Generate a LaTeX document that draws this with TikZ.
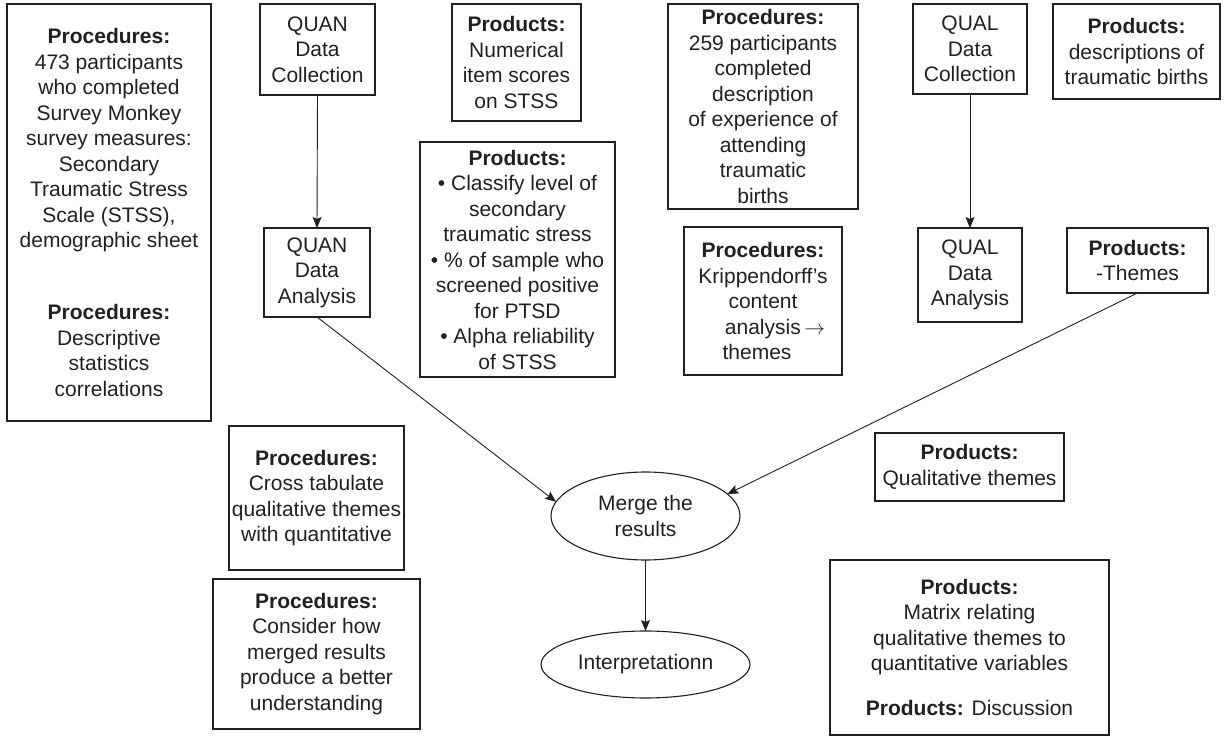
\documentclass[tikz,border=0pt]{standalone}
\usepackage{fontspec}
\setmainfont{Liberation Sans}
\usetikzlibrary{arrows.meta,shapes.geometric}

\definecolor{ink}{HTML}{231F20}

\tikzset{
  txt/.style={font=\fontsize{21}{25.5}\selectfont, text=ink, align=center},
  panel/.style={txt, draw=ink, line width=1.1pt, rectangle, inner sep=0pt, outer sep=0pt},
  oval/.style={txt, draw=ink, line width=1.1pt, ellipse, inner sep=0pt, outer sep=0pt},
  flow/.style={draw=ink, line width=0.9pt, -{Stealth[length=11pt,width=9pt,inset=2pt]}}
}

\begin{document}
\begin{tikzpicture}[x=1pt,y=-1pt]
\path[use as bounding box] (0,0) rectangle (1224,738);

% quantitative strand
\node[panel, minimum width=204pt, minimum height=417pt] (quanproc) at (109,212.5)
  {\textbf{Procedures:}\\473 participants\\who completed\\Survey Monkey\\survey measures:\\Secondary\\Traumatic Stress\\Scale (STSS),\\demographic sheet\\[46.5pt]\textbf{Procedures:}\\Descriptive\\statistics\\correlations};
\node[panel, minimum width=115pt, minimum height=91pt] (quandc) at (317.5,49.5)
  {QUAN\\Data\\Collection};
\node[panel, minimum width=106pt, minimum height=89pt] (quanda) at (317,272.5)
  {QUAN\\Data\\Analysis};
\node[panel, minimum width=129pt, minimum height=117pt] (quanprod) at (516.5,62.5)
  {\textbf{Products:}\\Numerical\\item scores\\on STSS};
\node[panel, minimum width=195pt, minimum height=235pt] (quanres) at (517.5,259.5)
  {\textbf{Products:}\\• Classify level of\\secondary\\traumatic stress\\• \% of sample who\\screened positive\\for PTSD\\• Alpha reliability\\of STSS};

% qualitative strand
\node[panel, minimum width=190pt, minimum height=205pt] (qualproc) at (763,106.5)
  {\textbf{Procedures:}\\259 participants\\completed\\description\\of experience of\\attending\\traumatic\\births};
\node[panel, minimum width=158pt, minimum height=148pt] (kripp) at (763,301)
  {\textbf{Procedures:}\\Krippendorff’s\\content\\\hbox to 24pt{}analysis\,$\rightarrow$\\themes\hbox to 12pt{}};
\node[panel, minimum width=114pt, minimum height=90pt] (qualdc) at (970,49)
  {QUAL\\Data\\Collection};
\node[panel, minimum width=104pt, minimum height=94pt] (qualda) at (970,275)
  {QUAL\\Data\\Analysis};
\node[panel, minimum width=167pt, minimum height=95pt] (qualprod) at (1136.5,51.5)
  {\textbf{Products:}\\descriptions of\\traumatic births};
\node[panel, minimum width=141pt, minimum height=65pt] (themes) at (1137.5,260.5)
  {\textbf{Products:}\\-Themes};

% merging stage
\node[oval, minimum width=189pt, minimum height=88pt] (merge) at (645.5,516)
  {Merge the\\results};
\node[oval, minimum width=209pt, minimum height=67pt] (interp) at (645.5,664.5)
  {Interpretationn};
\node[panel, minimum width=175pt, minimum height=144pt] (cross) at (316.5,498)
  {\textbf{Procedures:}\\Cross tabulate\\qualitative themes\\with quantitative};
\node[panel, minimum width=207pt, minimum height=150pt] (consider) at (316.5,654)
  {\textbf{Procedures:}\\Consider how\\merged results\\produce a better\\understanding};
\node[panel, minimum width=189pt, minimum height=68pt] (qualthemes) at (969.5,467)
  {\textbf{Products:}\\Qualitative themes};
\node[panel, minimum width=279pt, minimum height=175pt] (matrix) at (969.5,647.5)
  {\textbf{Products:}\\Matrix relating\\qualitative themes to\\quantitative variables\\[19.5pt]\textbf{Products:} Discussion};

% connectors
\draw[flow] (quandc.south) -- (quanda.north);
\draw[flow] (qualdc.south) -- (qualda.north);
\draw[flow] (quanda.south) -- (merge.171);
\draw[flow] (themes.south) -- (merge.15);
\draw[flow] (merge.south) -- (interp.north);
\end{tikzpicture}
\end{document}
